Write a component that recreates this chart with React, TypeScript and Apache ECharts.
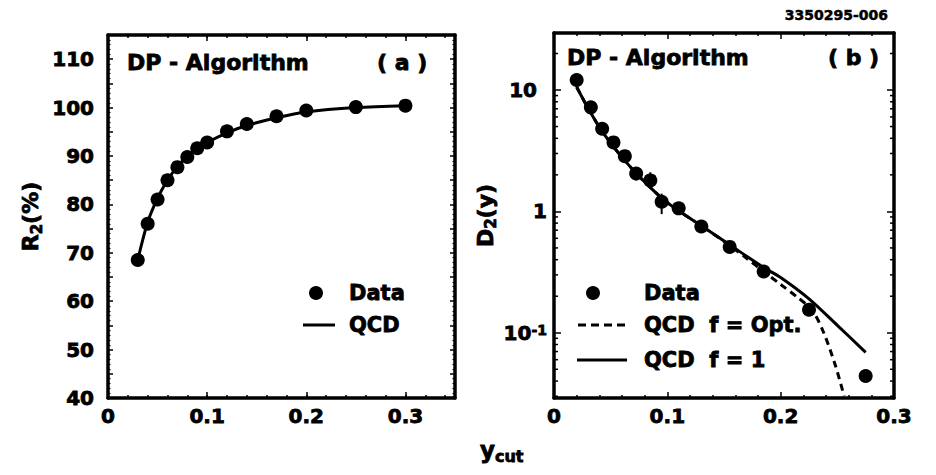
import React, { useEffect, useRef } from "react";
import * as echarts from "echarts";

// ---------- Panel (a): R2 vs y_cut ----------
const ycutA = [0.03, 0.04, 0.05, 0.06, 0.07, 0.08, 0.09, 0.1, 0.12, 0.14, 0.17, 0.2, 0.25, 0.3];
const r2Data = [68.5, 76, 81, 85, 87.7, 89.8, 91.6, 92.8, 95.1, 96.6, 98.2, 99.4, 100.1, 100.4];
const r2Qcd = [68.5, 76.3, 81.3, 85.0, 87.8, 89.9, 91.5, 92.8, 94.8, 96.3, 97.9, 99.1, 100.0, 100.4];

// ---------- Panel (b): D2(y) vs y_cut ----------
const ycutB = [0.02, 0.0325, 0.0425, 0.0525, 0.0625, 0.0725, 0.085, 0.095, 0.11, 0.13, 0.155, 0.185, 0.225, 0.275];
const d2Data = [12.1, 7.2, 4.8, 3.7, 2.85, 2.05, 1.8, 1.2, 1.06, 0.75, 0.51, 0.32, 0.155, 0.044];
const errX = [0.0725, 0.085, 0.095];
const errLo = [1.8, 1.55, 0.95];
const errHi = [2.3, 2.1, 1.4];
const qcdF1X = [0.02, 0.03, 0.04, 0.05, 0.06, 0.07, 0.08, 0.09, 0.1, 0.11, 0.13, 0.155, 0.185, 0.2, 0.225, 0.25, 0.275];
const qcdF1 = [10.6, 7.1, 4.95, 3.65, 2.8, 2.18, 1.75, 1.42, 1.18, 1.01, 0.76, 0.53, 0.345, 0.285, 0.19, 0.115, 0.069];
const qcdOptX = [0.02, 0.03, 0.04, 0.05, 0.06, 0.07, 0.08, 0.09, 0.1, 0.11, 0.13, 0.155, 0.17, 0.185, 0.2, 0.215, 0.2275, 0.238, 0.2485, 0.256];
const qcdOpt = [10.6, 7.1, 4.95, 3.65, 2.8, 2.18, 1.75, 1.42, 1.18, 1.01, 0.76, 0.525, 0.41, 0.32, 0.25, 0.195, 0.155, 0.1, 0.053, 0.03];
const logMinorTicks = [0.03, 0.04, 0.05, 0.06, 0.07, 0.08, 0.09, 0.2, 0.3, 0.4, 0.5, 0.6, 0.7, 0.8, 0.9, 2, 3, 4, 5, 6, 7, 8, 9, 20];

const FONT = "DejaVu Sans";
const BLACK = "#000";
const HEAVY = { textBorderColor: BLACK, textBorderWidth: 0.8 };

const tickLabelStyle = { color: BLACK, fontFamily: FONT, fontWeight: "bold" as const, fontSize: 20, ...HEAVY };

function zip(xs: number[], ys: number[]) {
  return xs.map((x, i) => [x, ys[i]]);
}

function tenthLabel(v: number, maxV: number) {
  const k = Math.round(v * 10);
  if (Math.abs(v * 10 - k) > 1e-6 || v > maxV + 1e-9) return "";
  return k === 0 ? "0" : (k / 10).toFixed(1);
}

function txt(x: number, y: number, text: string, fontSize: number, extra: any = {}) {
  return {
    type: "text", x, y,
    style: {
      text, fontFamily: FONT, fontWeight: "bold", fontSize, fill: BLACK,
      stroke: BLACK, lineWidth: 0.8, verticalAlign: "middle", ...extra,
    },
  };
}

export default function App() {
  const ref = useRef<HTMLDivElement>(null);
  useEffect(() => {
    if (!ref.current) return;
    const chart = echarts.init(ref.current, undefined, { renderer: "svg" });

    const frameLine = { show: true, onZero: false, lineStyle: { color: BLACK, width: 3.5 } };
    const noLine = { show: false };
    const subRich = {
      b: { fontFamily: FONT, fontWeight: "bold", fontSize: 22, color: BLACK, ...HEAVY },
      s: { fontFamily: FONT, fontWeight: "bold", fontSize: 15, color: BLACK, verticalAlign: "bottom", padding: [12, 0, 0, 0], ...HEAVY },
    };

    const option: any = {
      animation: false,
      backgroundColor: "#fff",
      grid: [
        { left: 108, top: 35, right: 481, bottom: 77 },
        { left: 554, top: 33, right: 42, bottom: 77 },
      ],
      xAxis: [
        {
          type: "value", gridIndex: 0, position: "bottom", min: 0, max: 0.35, interval: 0.02,
          axisLine: frameLine, splitLine: { show: false },
          axisTick: { inside: true, length: 3, lineStyle: { color: BLACK, width: 1.5 } },
          axisLabel: { ...tickLabelStyle, margin: 8, showMaxLabel: false, formatter: (v: number) => tenthLabel(v, 0.3) },
        },
        {
          type: "value", gridIndex: 0, position: "top", min: 0, max: 0.35, interval: 0.02,
          axisLine: frameLine, splitLine: { show: false },
          axisTick: { inside: true, length: 3, lineStyle: { color: BLACK, width: 1.5 } },
          axisLabel: { show: false },
        },
        {
          type: "value", gridIndex: 0, position: "bottom", min: 0, max: 0.35, interval: 0.1,
          axisLine: noLine, splitLine: { show: false },
          axisTick: { inside: true, length: 6, lineStyle: { color: BLACK, width: 1.5 } },
          axisLabel: { show: false },
        },
        {
          type: "value", gridIndex: 0, position: "top", min: 0, max: 0.35, interval: 0.1,
          axisLine: noLine, splitLine: { show: false },
          axisTick: { inside: true, length: 6, lineStyle: { color: BLACK, width: 1.5 } },
          axisLabel: { show: false },
        },
        {
          type: "value", gridIndex: 1, position: "bottom", min: 0, max: 0.3, interval: 0.1,
          axisLine: frameLine, splitLine: { show: false },
          axisTick: { inside: true, length: 6, lineStyle: { color: BLACK, width: 1.5 } },
          minorTick: { show: true, splitNumber: 5, length: 3, lineStyle: { color: BLACK, width: 1.5 } },
          axisLabel: { ...tickLabelStyle, margin: 8, formatter: (v: number) => tenthLabel(v, 0.3) },
        },
        {
          type: "value", gridIndex: 1, position: "top", min: 0, max: 0.3, interval: 0.1,
          axisLine: frameLine, splitLine: { show: false },
          axisTick: { inside: true, length: 6, lineStyle: { color: BLACK, width: 1.5 } },
          minorTick: { show: true, splitNumber: 5, length: 3, lineStyle: { color: BLACK, width: 1.5 } },
          axisLabel: { show: false },
        },
      ],
      yAxis: [
        {
          type: "value", gridIndex: 0, position: "left", min: 40, max: 115, interval: 5,
          axisLine: frameLine, splitLine: { show: false },
          axisTick: { inside: true, length: 5, lineStyle: { color: BLACK, width: 1.5 } },
          minorTick: { show: true, splitNumber: 5, length: 2.5, lineStyle: { color: BLACK, width: 1.2 } },
          axisLabel: {
            ...tickLabelStyle, margin: 14,
            formatter: (v: number) => (Math.round(v) % 10 === 0 && v <= 110 ? String(Math.round(v)) : ""),
          },
          name: "{b|R}{s|2}{b|(%)}",
          nameLocation: "middle",
          nameRotate: 90,
          nameGap: 64,
          nameTextStyle: { rich: subRich },
        },
        {
          type: "value", gridIndex: 0, position: "right", min: 40, max: 115, interval: 5,
          axisLine: frameLine, splitLine: { show: false },
          axisTick: { inside: true, length: 5, lineStyle: { color: BLACK, width: 1.5 } },
          minorTick: { show: true, splitNumber: 5, length: 2.5, lineStyle: { color: BLACK, width: 1.2 } },
          axisLabel: { show: false },
        },
        {
          type: "log", logBase: 10, gridIndex: 1, position: "left", min: 0.029, max: 29.5,
          axisLine: frameLine, splitLine: { show: false },
          axisTick: { inside: true, length: 7, lineStyle: { color: BLACK, width: 1.5 } },
          axisLabel: {
            margin: 7,
            formatter: (v: number) => {
              const l = Math.log10(v);
              const e = Math.round(l);
              if (Math.abs(l - e) > 1e-6) return "";
              if (e === 1) return "{b|10}{pad|}";
              if (e === 0) return "{b|1}";
              return "{b|10}{s|" + e + "}";
            },
            rich: {
              b: { fontFamily: FONT, fontWeight: "bold", fontSize: 20, color: BLACK, ...HEAVY },
              s: { fontFamily: FONT, fontWeight: "bold", fontSize: 14, color: BLACK, verticalAlign: "top", ...HEAVY },
              pad: { width: 10 },
            },
          },
          name: "{b|D}{s|2}{b|(y)}",
          nameLocation: "middle",
          nameRotate: 90,
          nameGap: 50,
          nameTextStyle: { rich: subRich },
        },
        {
          type: "log", logBase: 10, gridIndex: 1, position: "right", min: 0.029, max: 29.5,
          axisLine: frameLine, splitLine: { show: false },
          axisTick: { inside: true, length: 7, lineStyle: { color: BLACK, width: 1.5 } },
          axisLabel: { show: false },
        },
      ],
      series: [
        {
          type: "line", xAxisIndex: 0, yAxisIndex: 0, data: zip(ycutA, r2Qcd),
          smooth: 0.3, showSymbol: false, lineStyle: { color: BLACK, width: 3 },
        },
        {
          type: "scatter", xAxisIndex: 0, yAxisIndex: 0, data: zip(ycutA, r2Data),
          symbol: "circle", symbolSize: 14, itemStyle: { color: BLACK, opacity: 1 },
        },
        {
          type: "line", xAxisIndex: 4, yAxisIndex: 2, data: zip(qcdOptX, qcdOpt),
          smooth: 0.3, showSymbol: false, lineStyle: { color: BLACK, width: 3, type: [7, 5] },
        },
        {
          type: "line", xAxisIndex: 4, yAxisIndex: 2, data: zip(qcdF1X, qcdF1),
          smooth: 0.3, showSymbol: false, lineStyle: { color: BLACK, width: 3 },
        },
        {
          type: "custom", xAxisIndex: 4, yAxisIndex: 2, clip: false,
          data: errX.map((x, i) => [x, errLo[i], errHi[i]]),
          renderItem: (params: any, api: any) => {
            const lo = api.coord([api.value(0), api.value(1)]);
            const hi = api.coord([api.value(0), api.value(2)]);
            return {
              type: "line",
              shape: { x1: lo[0], y1: lo[1], x2: hi[0], y2: hi[1] },
              style: { stroke: BLACK, lineWidth: 2 },
            };
          },
        },
        {
          type: "scatter", xAxisIndex: 4, yAxisIndex: 2, data: zip(ycutB, d2Data),
          symbol: "circle", symbolSize: 14, itemStyle: { color: BLACK, opacity: 1 },
        },
        {
          type: "custom", xAxisIndex: 4, yAxisIndex: 2, clip: false, silent: true,
          data: logMinorTicks.map((v) => [0, v]),
          renderItem: (params: any, api: any) => {
            const l = api.coord([0, api.value(1)]);
            const r = api.coord([0.3, api.value(1)]);
            return {
              type: "group",
              children: [
                { type: "line", shape: { x1: l[0], y1: l[1], x2: l[0] + 4, y2: l[1] }, style: { stroke: BLACK, lineWidth: 1.5 } },
                { type: "line", shape: { x1: r[0], y1: r[1], x2: r[0] - 4, y2: r[1] }, style: { stroke: BLACK, lineWidth: 1.5 } },
              ],
            };
          },
        },
      ],
      graphic: [
        txt(127, 62, "DP - Algorithm", 22),
        txt(377, 62, "( a )", 22),
        txt(567, 57, "DP - Algorithm", 22),
        txt(828, 57, "( b )", 22),
        txt(888, 15, "3350295-006", 14, { align: "right", lineWidth: 0.5 }),
        { type: "circle", shape: { cx: 316, cy: 293, r: 7 }, style: { fill: BLACK } },
        txt(349, 293, "Data", 21),
        { type: "line", shape: { x1: 303, y1: 325, x2: 335, y2: 325 }, style: { stroke: BLACK, lineWidth: 3 } },
        txt(349, 325, "QCD", 21),
        { type: "circle", shape: { cx: 593, cy: 293, r: 7 }, style: { fill: BLACK } },
        txt(644, 293, "Data", 21),
        { type: "line", shape: { x1: 578, y1: 325, x2: 626, y2: 325 }, style: { stroke: BLACK, lineWidth: 3, lineDash: [8, 5] } },
        txt(644, 325, "QCD  f = Opt.", 21),
        { type: "line", shape: { x1: 577, y1: 360, x2: 627, y2: 360 }, style: { stroke: BLACK, lineWidth: 3 } },
        txt(644, 360, "QCD  f = 1", 21),
        {
          type: "text", x: 480, y: 450,
          style: {
            text: "{y|y}{s|cut}",
            verticalAlign: "middle",
            rich: {
              y: { fontFamily: FONT, fontWeight: "bold", fontSize: 23, fill: BLACK, stroke: BLACK, lineWidth: 0.8 },
              s: { fontFamily: FONT, fontWeight: "bold", fontSize: 16, fill: BLACK, stroke: BLACK, lineWidth: 0.8, verticalAlign: "bottom", padding: [12, 0, 0, 0] },
            },
          },
        },
      ],
    };

    chart.setOption(option);
    return () => chart.dispose();
  }, []);

  return (
    <div
      ref={ref}
      style={{ position: "fixed", left: 0, top: 0, width: 936, height: 475, background: "#fff" }}
    />
  );
}
